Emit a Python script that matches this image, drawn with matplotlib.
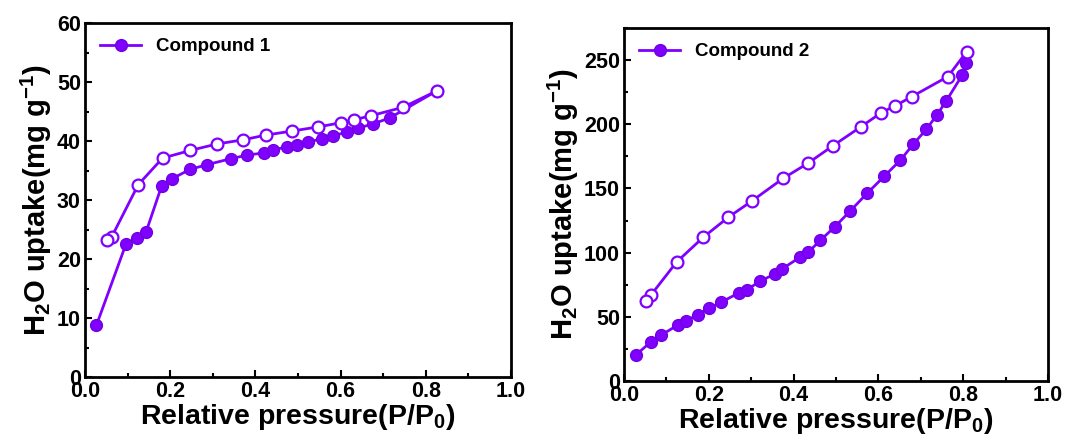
import matplotlib
matplotlib.use("Agg")
import matplotlib.pyplot as plt
from matplotlib.ticker import MultipleLocator

plt.rcParams['font.family'] = ['Liberation Sans', 'DejaVu Sans']
plt.rcParams['font.weight'] = 'bold'
plt.rcParams['mathtext.fontset'] = 'custom'
plt.rcParams['mathtext.rm'] = 'Liberation Sans:bold'
plt.rcParams['mathtext.bf'] = 'Liberation Sans:bold'
plt.rcParams['mathtext.default'] = 'bf'

# compound 1 isotherm
c1_ads_x = [0.027, 0.096, 0.121, 0.143, 0.180, 0.204, 0.247, 0.287, 0.342, 0.380, 0.421,
            0.442, 0.474, 0.497, 0.523, 0.556, 0.582, 0.615, 0.642, 0.676, 0.715, 0.826]
c1_ads_y = [8.8, 22.5, 23.5, 24.5, 32.4, 33.6, 35.2, 36.0, 37.0, 37.6, 38.0,
            38.5, 39.0, 39.4, 39.8, 40.4, 40.9, 41.5, 42.2, 42.9, 43.9, 48.5]
c1_des_x = [0.826, 0.746, 0.672, 0.632, 0.601, 0.548, 0.487, 0.424, 0.371, 0.310,
            0.247, 0.182, 0.125, 0.063, 0.052]
c1_des_y = [48.5, 45.7, 44.3, 43.6, 43.1, 42.4, 41.7, 41.0, 40.2, 39.5,
            38.4, 37.1, 32.6, 23.8, 23.2]

# compound 2 isotherm
c2_ads_x = [0.028, 0.064, 0.088, 0.128, 0.146, 0.174, 0.201, 0.228, 0.270, 0.289,
            0.321, 0.356, 0.372, 0.415, 0.435, 0.463, 0.497, 0.533, 0.573, 0.614,
            0.652, 0.682, 0.713, 0.738, 0.760, 0.798, 0.806]
c2_ads_y = [20.3, 30.7, 35.9, 43.8, 46.9, 51.6, 56.8, 61.2, 68.5, 71.1,
            77.6, 83.6, 87.2, 96.4, 100.5, 109.6, 120.1, 132.3, 146.1, 159.6,
            172.1, 184.4, 196.1, 207.3, 218.2, 238.5, 247.7]
c2_des_x = [0.808, 0.764, 0.678, 0.639, 0.607, 0.558, 0.492, 0.433, 0.375, 0.301,
            0.246, 0.187, 0.124, 0.064, 0.052]
c2_des_y = [256.5, 237.2, 221.4, 214.3, 209.1, 197.9, 183.1, 169.5, 157.8, 140.1,
            127.6, 112.0, 92.7, 67.2, 62.0]

purple = '#8000ff'

fig = plt.figure(figsize=(10.8, 4.41), dpi=100)
ax1 = fig.add_axes([0.0787, 0.1451, 0.3944, 0.8027])
ax2 = fig.add_axes([0.5778, 0.136, 0.3926, 0.8005])


def draw(ax, ax_x, ax_y, de_x, de_y, label, ymax, ymajor):
    ax.plot(ax_x, ax_y, color=purple, lw=2, marker='o', ms=8.5,
            mfc=purple, mec='#7000e0', label=label, zorder=3)
    ax.plot(de_x, de_y, color=purple, lw=2, marker='o', ms=8.5,
            mfc='white', mec=purple, mew=1.6, zorder=3)
    ax.set_xlim(0, 1.0)
    ax.set_ylim(0, ymax)
    ax.xaxis.set_major_locator(MultipleLocator(0.2))
    ax.xaxis.set_minor_locator(MultipleLocator(0.1))
    ax.yaxis.set_major_locator(MultipleLocator(ymajor))
    ax.yaxis.set_minor_locator(MultipleLocator(ymajor / 2))
    ax.tick_params(which='both', direction='in', top=False, right=False,
                   labelsize=15.5, width=1.5, pad=3)
    ax.tick_params(which='major', length=5)
    ax.tick_params(which='minor', length=3)
    for s in ax.spines.values():
        s.set_linewidth(2)
    ax.set_xlabel('Relative pressure(P/P$_0$)', fontsize=20.5, fontweight='bold', labelpad=0)
    ax.set_ylabel('H$_2$O uptake(mg g$^{-1}$)', fontsize=21, fontweight='bold', labelpad=2)
    ax.legend(loc='upper left', frameon=False, handlelength=2.2,
              borderaxespad=0.4, prop={'weight': 'bold', 'size': 13.5})


draw(ax1, c1_ads_x, c1_ads_y, c1_des_x, c1_des_y, 'Compound 1', 60, 10)
draw(ax2, c2_ads_x, c2_ads_y, c2_des_x, c2_des_y, 'Compound 2', 275, 50)

fig.savefig('out.png', dpi=100)
